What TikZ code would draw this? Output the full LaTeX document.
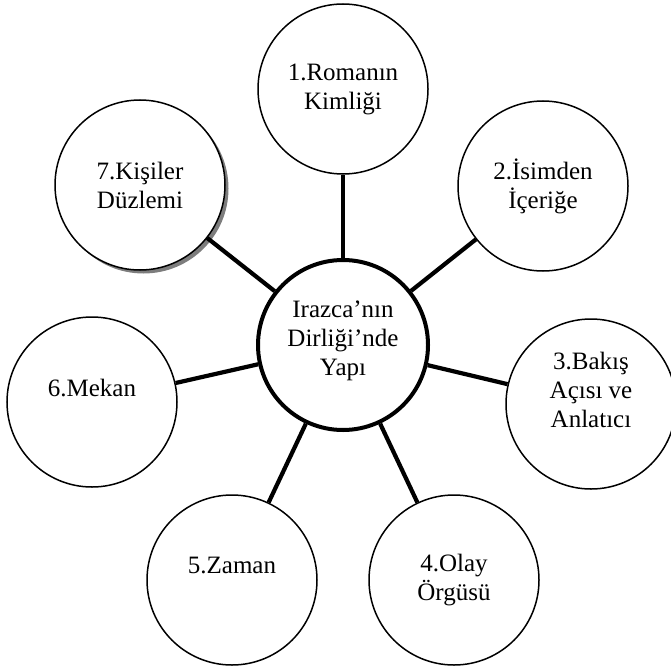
\documentclass[tikz,border=0pt]{standalone}
\usepackage{fontspec}
\setmainfont{Liberation Serif}
\usetikzlibrary{shadows}
\definecolor{rimblack}{RGB}{0,0,0}
\definecolor{shadegray}{RGB}{125,125,125}
\tikzset{
  part/.style={circle,draw=rimblack,fill=white,line width=1.5pt,minimum size=170pt,
               inner sep=0pt,align=center,font=\fontsize{25}{29}\selectfont},
  hubnode/.style={part,line width=4pt},
  link/.style={rimblack,line width=4.2pt},
  shaded/.style={drop shadow={shadow xshift=3.5pt,shadow yshift=-3.5pt,
                 fill=shadegray,opacity=1}}
}
\begin{document}
\begin{tikzpicture}[x=1pt,y=-1pt]
  \useasboundingbox[fill=white] (0,0) rectangle (671,666);
  % Central topic and the seven parts around it.
  \node[hubnode] (hub) at (343,345) {Irazca’nın\\Dirliği’nde\\Yapı\\[-15pt]\mbox{}};
  \node[part] (rom) at (343,89) {1.Romanın\\Kimliği};
  \node[part] (isim) at (543,186) {2.İsimden\\İçeriğe};
  \node[part] (bakis) at (591,404) {3.Bakış\\Açısı ve\\Anlatıcı\\\mbox{}};
  \node[part] (olay) at (454,580) {4.Olay\\Örgüsü};
  \node[part] (zaman) at (232,580) {5.Zaman\\\mbox{}};
  \node[part] (mekan) at (92,402) {6.Mekan\\\mbox{}};
  \node[part,shaded] (kisi) at (140,185) {7.Kişiler\\Düzlemi};

  % Spokes from the hub to every part.
  \foreach \p in {rom,isim,bakis,olay,zaman,mekan,kisi} {\draw[link] (hub)--(\p);}
\end{tikzpicture}
\end{document}
